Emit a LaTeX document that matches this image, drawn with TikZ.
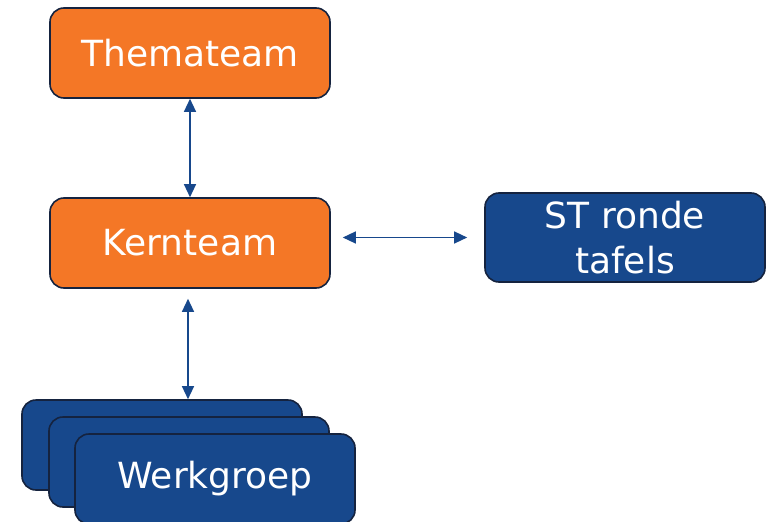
\documentclass[tikz,border=0pt]{standalone}
\usepackage{fontspec}
\setmainfont{DejaVu Sans}
\usetikzlibrary{arrows.meta}
\definecolor{teamorange}{HTML}{F47726}
\definecolor{groepblue}{HTML}{17488C}
\definecolor{rand}{HTML}{15233F}

\begin{document}
\begin{tikzpicture}[x=1pt, y=-1pt]
    \tikzset{teambox/.style={draw=rand, line width=1.6pt, rounded corners=14pt,
            minimum width=280pt, minimum height=90pt, text=white, align=center,
            font=\fontsize{36}{45}\selectfont},
        orangebox/.style={teambox, fill=teamorange},
        bluebox/.style={teambox, fill=groepblue},
        link/.style={groepblue, line width=1.3pt,
            {Triangle[length=13pt,width=12pt]}-{Triangle[length=13pt,width=12pt]}}}
    \useasboundingbox (0,0) rectangle (766,522);
    \node[orangebox] (thema) at (190,53) {Themateam};
    \node[orangebox] (kern) at (190,243) {Kernteam};
    \node[bluebox, minimum height=89pt] (st) at (625,237.5) {ST ronde\\tafels};
    \node[bluebox] (wgA) at (162,445) {};
    \node[bluebox] (wgB) at (189,462) {};
    \node[bluebox] (wgC) at (215,479) {Werkgroep};
    \draw[link] (thema.south) -- (kern.north);
    \draw[link, shorten <=10pt] ([xshift=-2pt]kern.south) -- ([xshift=-2pt]kern.south |- wgA.north);
    \draw[link, shorten <=12pt, shorten >=17pt] (kern.east |- st.west) -- (st.west);
\end{tikzpicture}
\end{document}
